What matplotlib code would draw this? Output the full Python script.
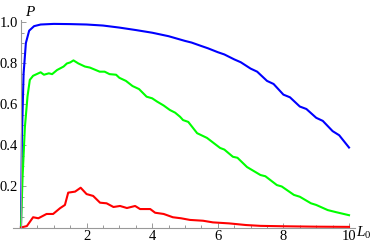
import matplotlib.pyplot as plt
import numpy as np
import matplotlib

matplotlib.rcParams['font.family'] = 'Liberation Serif'
matplotlib.rcParams['mathtext.fontset'] = 'custom'
matplotlib.rcParams['mathtext.it'] = 'Liberation Serif:italic'
matplotlib.rcParams['mathtext.rm'] = 'Liberation Serif'

# Data
blue_x = [0, 0.03, 0.08, 0.15, 0.25, 0.4, 0.6, 1.0, 1.5, 2.0, 2.5, 3.0, 3.5, 4.0,
          4.5, 5.0, 5.2, 5.5, 5.7, 6.0, 6.2, 6.5, 6.7, 7.0, 7.2, 7.5, 7.7, 8.0,
          8.2, 8.5, 8.7, 9.0, 9.2, 9.5, 9.7, 10.0]
blue_y = [0, 0.45, 0.75, 0.9, 0.96, 0.982, 0.99, 0.993, 0.992, 0.99, 0.985, 0.975,
          0.963, 0.95, 0.933, 0.91, 0.902, 0.885, 0.874, 0.855, 0.844, 0.82, 0.806,
          0.775, 0.76, 0.715, 0.70, 0.648, 0.635, 0.59, 0.578, 0.535, 0.52, 0.47,
          0.45, 0.39]

green_x = [0, 0.05, 0.12, 0.2, 0.27, 0.37, 0.6, 0.7, 0.85, 0.95, 1.1, 1.3, 1.4, 1.5,
           1.6, 1.75, 1.95, 2.1, 2.4, 2.55, 2.7, 2.9, 3.0, 3.2, 3.4, 3.6, 3.83, 4.0,
           4.15, 4.35, 4.54, 4.7, 4.85, 4.94, 5.1, 5.37, 5.5, 5.67, 6.07, 6.2, 6.46,
           6.6, 6.89, 7.3, 7.45, 7.8, 7.95, 8.32, 8.5, 8.84, 9.0, 9.35, 9.6, 10.0]
green_y = [0, 0.25, 0.49, 0.64, 0.72, 0.74, 0.757, 0.745, 0.752, 0.748, 0.768, 0.785,
           0.8, 0.805, 0.815, 0.8, 0.785, 0.78, 0.76, 0.76, 0.748, 0.745, 0.73, 0.715,
           0.69, 0.675, 0.638, 0.63, 0.614, 0.595, 0.573, 0.56, 0.54, 0.524, 0.515,
           0.46, 0.45, 0.437, 0.388, 0.38, 0.345, 0.34, 0.295, 0.256, 0.25, 0.207,
           0.2, 0.159, 0.15, 0.118, 0.11, 0.085, 0.075, 0.06]

red_x = [0, 0.18, 0.37, 0.53, 0.78, 0.98, 1.19, 1.34, 1.44, 1.65, 1.82, 2.0, 2.2, 2.41,
         2.61, 2.82, 3.02, 3.23, 3.48, 3.63, 3.94, 4.09, 4.35, 4.63, 4.88, 5.15, 5.55,
         5.85, 6.35, 6.86, 7.3, 8.0, 9.0, 10.0]
red_y = [0, 0.007, 0.05, 0.045, 0.066, 0.066, 0.094, 0.11, 0.17, 0.175, 0.194, 0.163,
         0.154, 0.121, 0.118, 0.10, 0.105, 0.095, 0.105, 0.09, 0.09, 0.072, 0.066,
         0.05, 0.045, 0.037, 0.033, 0.025, 0.02, 0.012, 0.008, 0.006, 0.004, 0.003]

fig = plt.figure(figsize=(3.74, 2.46), dpi=100)
ax = fig.add_axes([0.035, 0.0752, 0.914, 0.8435])

ax.plot(blue_x, blue_y, color='#0000ff', lw=1.5)
ax.plot(green_x, green_y, color='#00ff00', lw=1.5)
ax.plot(red_x, red_y, color='#ff0000', lw=1.5)

ax.set_xlim(-0.24, 10.18)
ax.set_ylim(0, 1.012)

axis_gray = '#999999'
for s in ['top', 'right']:
    ax.spines[s].set_visible(False)
ax.spines['left'].set_position(('data', 0))
ax.spines['left'].set_color(axis_gray)
ax.spines['bottom'].set_color(axis_gray)
ax.spines['left'].set_linewidth(0.8)
ax.spines['bottom'].set_linewidth(0.8)

ax.set_xticks([2, 4, 6, 8, 10])
ax.set_xticks(np.arange(0.5, 10.01, 0.5), minor=True)
ax.set_yticks([0.2, 0.4, 0.6, 0.8, 1.0])
ax.set_yticklabels(['0.2', '0.4', '0.6', '0.8', '1.0'])
ax.set_yticks(np.arange(0.05, 1.001, 0.05), minor=True)
ax.tick_params(which='both', direction='in', color=axis_gray, width=0.7,
               labelsize=10.5, labelcolor='black')
ax.tick_params(which='major', length=3.5, pad=2)
ax.tick_params(which='minor', length=2)

fig.text(25 / 374, 1 - 12 / 246, '$P$', fontsize=11, va='center', ha='left')
fig.text(356 / 374, 1 - 233 / 246, '$L_0$', fontsize=11, va='center', ha='left')

plt.savefig('out.png', dpi=100)
